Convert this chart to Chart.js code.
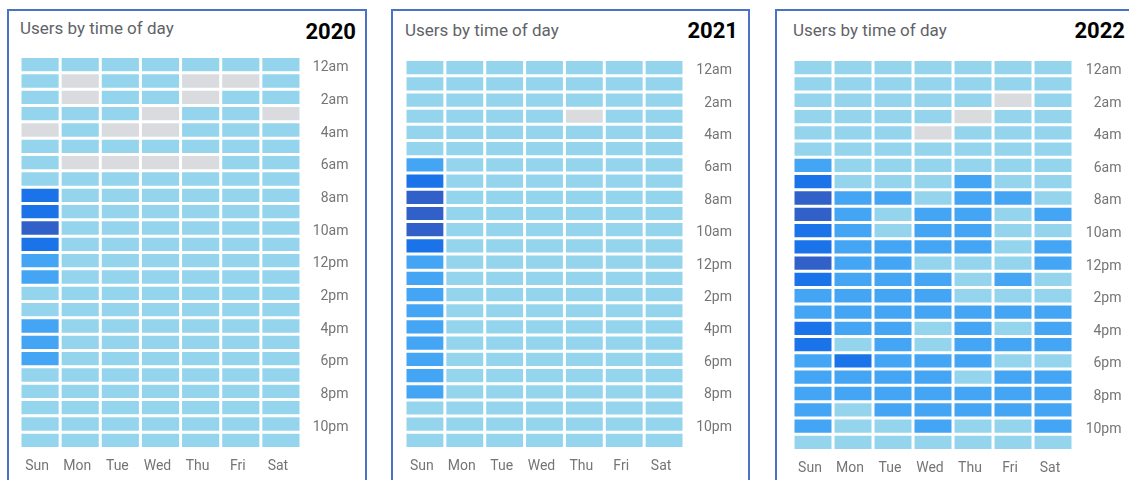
<!DOCTYPE html>
<html>
<head>
<meta charset="utf-8">
<title>Users by time of day</title>
<script src="https://cdn.jsdelivr.net/npm/chart.js@4.4.0/dist/chart.umd.min.js"></script>
<style>
    body {
        margin: 0;
        width: 1129px;
        height: 480px;
        overflow: hidden;
        position: relative;
        background: #ffffff;
        font-family: Roboto, 'Noto Sans', sans-serif;
    }
    .panel {
        position: absolute;
        top: 9px;
        height: 500px;
        border: 2px solid #4a73c5;
        box-sizing: border-box;
    }
    .title {
        position: absolute;
        font-size: 17px;
        line-height: 17px;
        color: #5f6368;
        white-space: nowrap;
    }
    .year {
        position: absolute;
        font-size: 22px;
        line-height: 22px;
        font-weight: bold;
        color: #000000;
    }
    .chart-box {
        position: absolute;
        top: 0;
        height: 480px;
    }
</style>
</head>
<body>

<div class="panel" style="left:7px; width:360px;"></div>
<div class="title" style="left:20px; top:20px;">Users by time of day</div>
<div class="year" style="right:773px; top:21px;">2020</div>
<div class="chart-box" id="box2020"><canvas id="chart2020"></canvas></div>

<div class="panel" style="left:391px; width:359px;"></div>
<div class="title" style="left:405px; top:22px;">Users by time of day</div>
<div class="year" style="right:391px; top:20px;">2021</div>
<div class="chart-box" id="box2021"><canvas id="chart2021"></canvas></div>

<div class="panel" style="left:775px; width:380px;"></div>
<div class="title" style="left:793px; top:22px;">Users by time of day</div>
<div class="year" style="right:4px; top:20px;">2022</div>
<div class="chart-box" id="box2022"><canvas id="chart2022"></canvas></div>

<script>
// axis labels
const days = ['Sun', 'Mon', 'Tue', 'Wed', 'Thu', 'Fri', 'Sat'];
const hourLabels = [
    '12am', '1am', '2am', '3am', '4am', '5am', '6am', '7am', '8am', '9am', '10am', '11am',
    '12pm', '1pm', '2pm', '3pm', '4pm', '5pm', '6pm', '7pm', '8pm', '9pm', '10pm', '11pm'
];

// colour per user level: 0 = no data, 1 = low ... 4 = highest
const levelColors = ['#dadbdf', '#94d5ed', '#45a5f5', '#1a73e8', '#3060c8'];

// user level per hour (rows) and weekday (Sun..Sat)
const users2020 = [
    [1, 1, 1, 1, 1, 1, 1],
    [1, 0, 1, 1, 0, 0, 1],
    [1, 0, 1, 1, 0, 1, 1],
    [1, 1, 1, 0, 1, 1, 0],
    [0, 1, 0, 0, 1, 1, 1],
    [1, 1, 1, 1, 1, 1, 1],
    [1, 0, 0, 0, 0, 1, 1],
    [1, 1, 1, 1, 1, 1, 1],
    [3, 1, 1, 1, 1, 1, 1],
    [3, 1, 1, 1, 1, 1, 1],
    [4, 1, 1, 1, 1, 1, 1],
    [3, 1, 1, 1, 1, 1, 1],
    [2, 1, 1, 1, 1, 1, 1],
    [2, 1, 1, 1, 1, 1, 1],
    [1, 1, 1, 1, 1, 1, 1],
    [1, 1, 1, 1, 1, 1, 1],
    [2, 1, 1, 1, 1, 1, 1],
    [2, 1, 1, 1, 1, 1, 1],
    [2, 1, 1, 1, 1, 1, 1],
    [1, 1, 1, 1, 1, 1, 1],
    [1, 1, 1, 1, 1, 1, 1],
    [1, 1, 1, 1, 1, 1, 1],
    [1, 1, 1, 1, 1, 1, 1],
    [1, 1, 1, 1, 1, 1, 1]
];

const users2021 = [
    [1, 1, 1, 1, 1, 1, 1],
    [1, 1, 1, 1, 1, 1, 1],
    [1, 1, 1, 1, 1, 1, 1],
    [1, 1, 1, 1, 0, 1, 1],
    [1, 1, 1, 1, 1, 1, 1],
    [1, 1, 1, 1, 1, 1, 1],
    [2, 1, 1, 1, 1, 1, 1],
    [3, 1, 1, 1, 1, 1, 1],
    [4, 1, 1, 1, 1, 1, 1],
    [4, 1, 1, 1, 1, 1, 1],
    [4, 1, 1, 1, 1, 1, 1],
    [3, 1, 1, 1, 1, 1, 1],
    [2, 1, 1, 1, 1, 1, 1],
    [2, 1, 1, 1, 1, 1, 1],
    [2, 1, 1, 1, 1, 1, 1],
    [2, 1, 1, 1, 1, 1, 1],
    [2, 1, 1, 1, 1, 1, 1],
    [2, 1, 1, 1, 1, 1, 1],
    [2, 1, 1, 1, 1, 1, 1],
    [2, 1, 1, 1, 1, 1, 1],
    [2, 1, 1, 1, 1, 1, 1],
    [1, 1, 1, 1, 1, 1, 1],
    [1, 1, 1, 1, 1, 1, 1],
    [1, 1, 1, 1, 1, 1, 1]
];

const users2022 = [
    [1, 1, 1, 1, 1, 1, 1],
    [1, 1, 1, 1, 1, 1, 1],
    [1, 1, 1, 1, 1, 0, 1],
    [1, 1, 1, 1, 0, 1, 1],
    [1, 1, 1, 0, 1, 1, 1],
    [1, 1, 1, 1, 1, 1, 1],
    [2, 1, 1, 1, 1, 1, 1],
    [3, 1, 1, 1, 2, 1, 1],
    [4, 2, 2, 1, 2, 2, 1],
    [4, 2, 1, 2, 2, 1, 2],
    [3, 2, 1, 2, 2, 1, 1],
    [3, 2, 2, 2, 2, 1, 2],
    [4, 2, 2, 1, 1, 1, 2],
    [3, 2, 2, 2, 1, 2, 1],
    [2, 2, 2, 2, 1, 1, 1],
    [2, 2, 2, 2, 2, 2, 2],
    [3, 2, 2, 1, 2, 1, 2],
    [3, 1, 2, 1, 2, 2, 2],
    [2, 3, 2, 2, 2, 1, 1],
    [2, 2, 2, 2, 1, 2, 2],
    [2, 2, 2, 2, 2, 2, 2],
    [2, 1, 2, 2, 2, 2, 2],
    [2, 1, 1, 2, 1, 1, 2],
    [1, 1, 1, 1, 1, 1, 1]
];

Chart.defaults.font.family = "Roboto, 'Noto Sans', sans-serif";

// draw one heatmap: each hour is a stacked bar segment of height 1 per weekday
function initHeatmap(key, levels, area) {
    const box = document.getElementById('box' + key);
    box.style.left = (area.left - 10) + 'px';
    box.style.width = (area.labelRight - area.left + 20) + 'px';

    const datasets = hourLabels.map((hour, h) => ({
        label: hour,
        data: days.map(() => 1),
        backgroundColor: levels[h].map(lv => levelColors[lv]),
        borderColor: '#ffffff',
        borderWidth: 1.5,
        borderSkipped: false,
        inflateAmount: 0,
        barPercentage: 1,
        categoryPercentage: 1
    }));

    new Chart(document.getElementById('chart' + key), {
        type: 'bar',
        data: { labels: days, datasets: datasets },
        options: {
            responsive: true,
            maintainAspectRatio: false,
            animation: false,
            layout: {
                padding: { left: 10, right: 10, top: area.top, bottom: 480 - area.bottom - 26 }
            },
            plugins: {
                legend: { display: false },
                tooltip: { enabled: false }
            },
            scales: {
                x: {
                    stacked: true,
                    grid: { display: false, drawTicks: false },
                    border: { display: false },
                    ticks: {
                        color: '#757575',
                        font: { size: 14 },
                        padding: 10,
                        labelOffset: -3,
                        maxRotation: 0
                    },
                    afterFit: scale => { scale.height = 26; }
                },
                y: {
                    type: 'linear',
                    stacked: true,
                    position: 'right',
                    reverse: true,
                    min: 0,
                    max: hourLabels.length,
                    grid: { display: false, drawTicks: false },
                    border: { display: false },
                    afterBuildTicks: axis => {
                        axis.ticks = hourLabels
                            .map((l, i) => ({ value: i + 0.5 }))
                            .filter((t, i) => i % 2 === 0);
                    },
                    ticks: {
                        color: '#757575',
                        font: { size: 14 },
                        crossAlign: 'far',
                        padding: 11,
                        labelOffset: 3,
                        callback: value => hourLabels[Math.floor(value)]
                    },
                    afterFit: scale => { scale.width = area.labelRight - area.right; }
                }
            }
        }
    });
}

function initApp() {
    initHeatmap('2020', users2020, { left: 19.5, right: 300.5, top: 56.5, bottom: 448.5, labelRight: 348 });
    initHeatmap('2021', users2021, { left: 405, right: 684, top: 59.5, bottom: 448.5, labelRight: 732 });
    initHeatmap('2022', users2022, { left: 792.5, right: 1072.5, top: 59.5, bottom: 450.5, labelRight: 1121 });
}

document.addEventListener('DOMContentLoaded', initApp);
</script>
</body>
</html>
